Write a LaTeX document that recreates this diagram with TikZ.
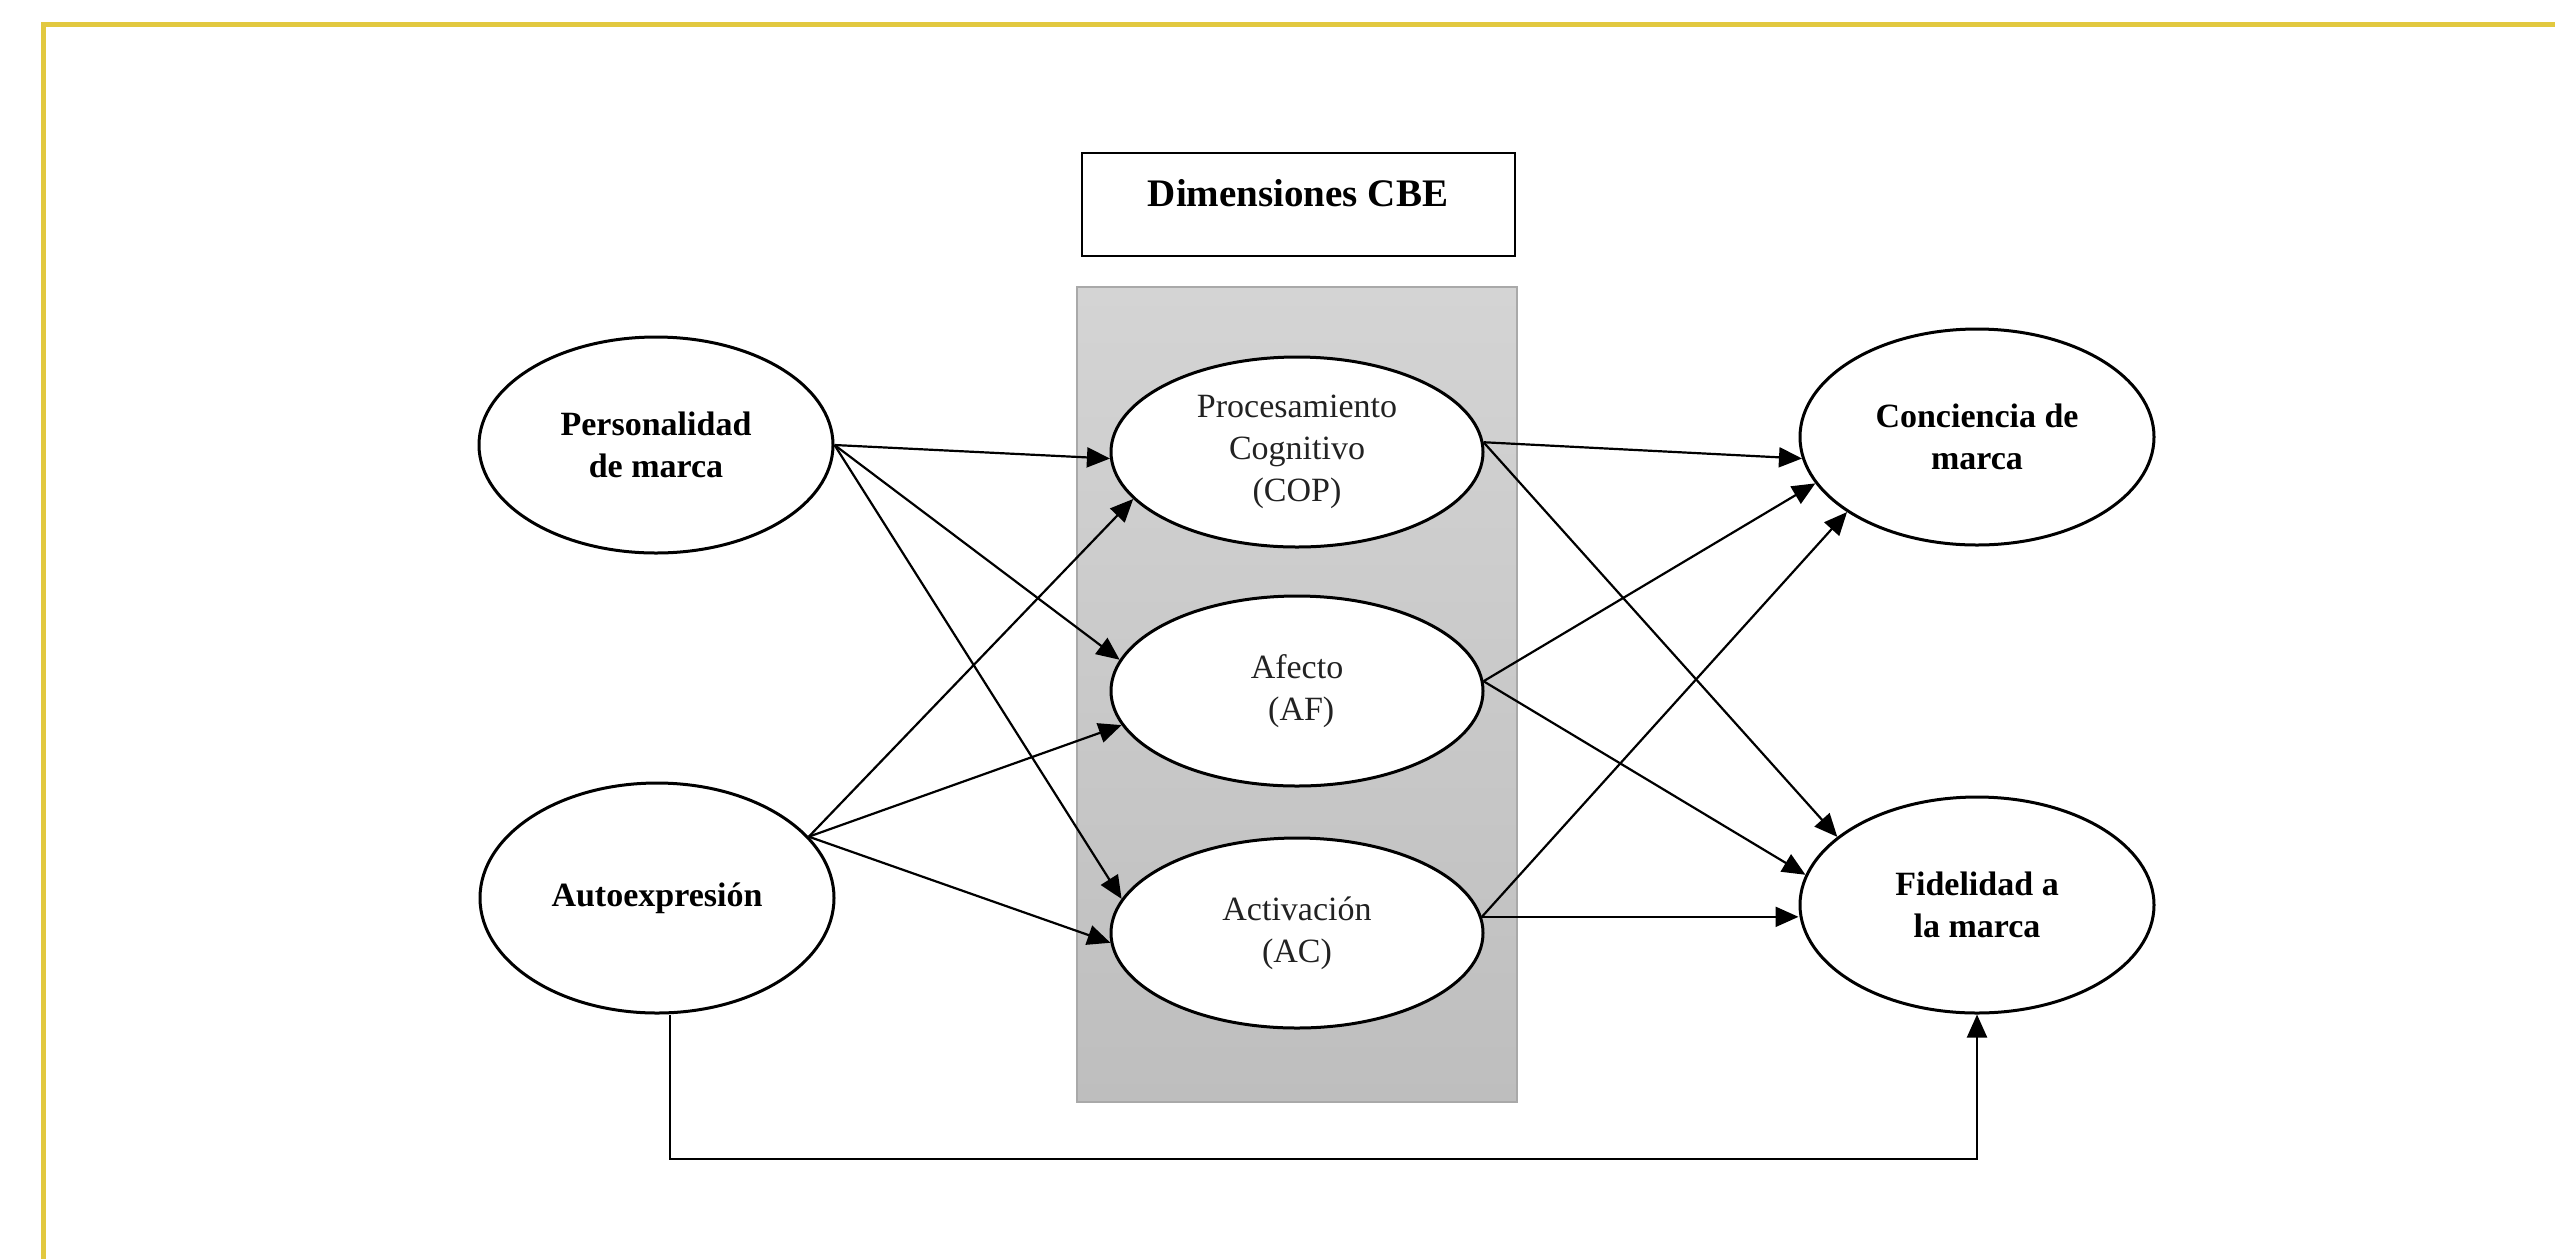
\documentclass[tikz,border=0pt]{standalone}
\usepackage{fontspec}
\setmainfont{Liberation Serif}
\usetikzlibrary{shapes.geometric,arrows.meta}
\definecolor{ybord}{HTML}{E2C83F}
\definecolor{gtop}{HTML}{D4D4D4}
\definecolor{gbot}{HTML}{BEBEBE}
\definecolor{gedge}{HTML}{A9A9A9}
\definecolor{midtext}{HTML}{222222}
\begin{document}
\begin{tikzpicture}[x=1pt,y=-1pt,
  outerbox/.style={ellipse,draw=black,line width=3pt,fill=white,inner sep=0pt,
    minimum width=354pt,minimum height=216pt,align=center,
    font=\fontsize{34}{42}\selectfont\bfseries},
  innerbox/.style={ellipse,draw=black,line width=3pt,fill=white,inner sep=0pt,
    minimum width=372pt,minimum height=190pt,align=center,text=midtext,
    font=\fontsize{34}{42}\selectfont},
  arr/.style={line width=2.2pt,-{Triangle[length=23pt,width=20pt]}},
  ]
\useasboundingbox (0,0) rectangle (2555,1259);
\fill[white] (0,0) rectangle (2555,1259);
\draw[ybord,line width=5pt] (43.5,1259) -- (43.5,24.5) -- (2555,24.5);

% grey band
\shade[top color=gtop,bottom color=gbot] (1077,287) rectangle (1517,1102);
\draw[gedge,line width=1.5pt] (1077,287) rectangle (1517,1102);

% title box
\node[draw=black,line width=2.5pt,minimum width=433pt,minimum height=103pt,inner sep=0pt] (dimbox) at (1298.5,204.5) {};
\node[font=\fontsize{39}{46}\selectfont\bfseries,inner sep=0pt] (dimtxt) at (1298,193) {Dimensiones CBE};

% nodes
\node[outerbox] (P) at (656,445) {Personalidad\\de marca};
\node[outerbox,minimum height=230pt] (A) at (657,898) {Autoexpresión};
\node[innerbox] (COP) at (1297,452) {Procesamiento\\Cognitivo\\(COP)};
\node[innerbox] (AF) at (1297,691) {Afecto\\\ (AF)};
\node[innerbox] (AC) at (1297,933) {Activación\\(AC)};
\node[outerbox] (CM) at (1977,437) {Conciencia de\\marca};
\node[outerbox] (FM) at (1977,905) {Fidelidad a\\la marca};

% connectors
\draw[arr] (P.east) -- (COP.182);
\draw[arr] (P.east) -- (AF.170);
\draw[arr] (P.east) -- (AC.169);
\draw[arr] (A.22) -- (COP.196);
\draw[arr] (A.22) -- (AF.191);
\draw[arr] (A.22) -- (AC.183);
\draw[arr] (COP.3) -- (CM.187);
\draw[arr] (COP.3) -- (FM.154);
\draw[arr] (AF.3) -- (CM.196);
\draw[arr] (AF.3) -- (FM.170);
\draw[arr] (AC.5) -- (CM.210);
\draw[arr] (AC.5) -- (AC.5 -| FM.west);

\coordinate (bot) at (0,1159);
\coordinate (aout) at ([xshift=13pt]A.south);
\draw[arr] (aout) -- (aout |- bot) -| (FM.south);
\end{tikzpicture}
\end{document}
